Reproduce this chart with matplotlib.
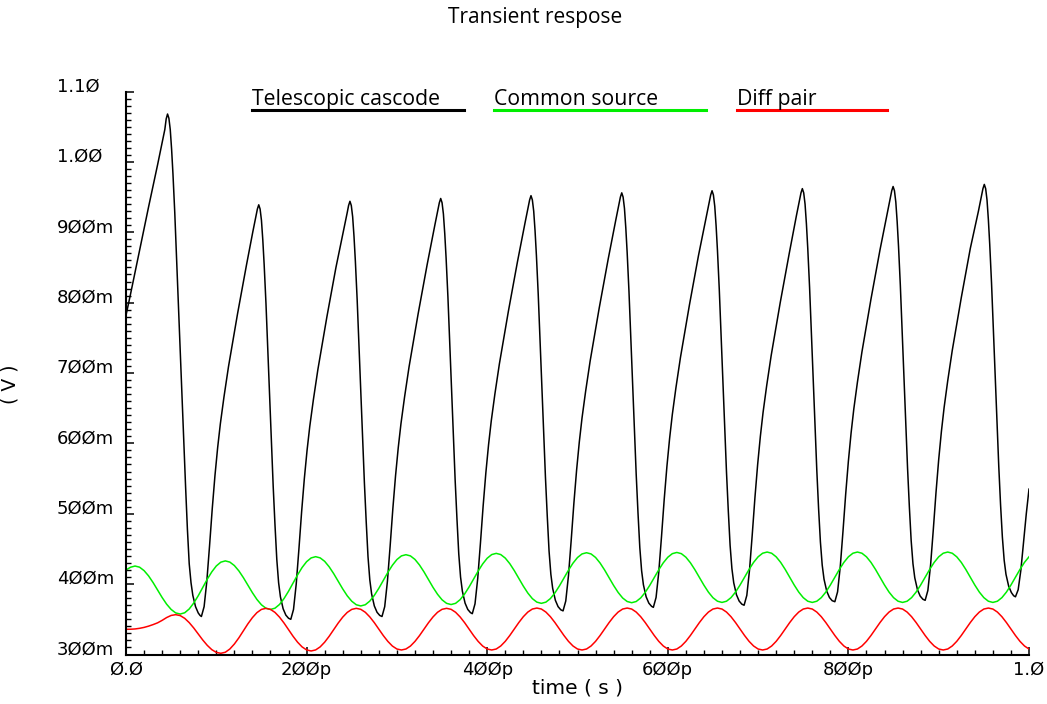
import numpy as np
import matplotlib
matplotlib.use("Agg")
import matplotlib.pyplot as plt
from matplotlib.lines import Line2D
from matplotlib.ticker import MultipleLocator

# ---- waveform samples: time in ps, voltage in mV ----
# Telescopic cascode output (one rise + one fall per cycle)
black_t = [
    0, 5, 10, 15, 20, 25, 30, 35, 40, 43, 44.5, 46,
    47.5, 49, 50.5, 52, 54, 56, 58, 60, 62, 64, 66, 68, 70, 72, 74, 77, 80, 82, 83.5,
    86.5, 89.5, 92.5, 95.5, 98.5, 101.5, 104.5, 108.5, 113.5, 123.5, 133.5, 140.5, 144, 145.5, 147,
    148.5, 150, 151.5, 153, 155, 157, 159, 161, 163, 165, 167, 169, 171, 174, 177, 180, 182.5,
    185.5, 188.5, 191.5, 194.5, 197.5, 200.5, 203.5, 207.5, 212.5, 222.5, 232.5, 241.5, 245, 246.5, 248,
    249.5, 251, 252.5, 254, 256, 258, 260, 262, 264, 266, 268, 270, 272, 275, 278, 281, 283.5,
    286.5, 289.5, 292.5, 295.5, 298.5, 301.5, 304.5, 308.5, 313.5, 323.5, 333.5, 342, 345.5, 347, 348.5,
    350, 351.5, 353, 354.5, 356.5, 358.5, 360.5, 362.5, 364.5, 366.5, 368.5, 370.5, 372.5, 375.5, 378.5, 381.5, 383.5,
    386.5, 389.5, 392.5, 395.5, 398.5, 401.5, 404.5, 408.5, 413.5, 423.5, 433.5, 442, 445.5, 447, 448.5,
    450, 451.5, 453, 454.5, 456.5, 458.5, 460.5, 462.5, 464.5, 466.5, 468.5, 470.5, 472.5, 475.5, 478.5, 481.5, 484,
    487, 490, 493, 496, 499, 502, 505, 509, 514, 524, 534, 542.5, 546, 547.5, 549,
    550.5, 552, 553.5, 555, 557, 559, 561, 563, 565, 567, 569, 571, 573, 576, 579, 582, 584,
    587, 590, 593, 596, 599, 602, 605, 609, 614, 624, 634, 642.5, 646, 647.5, 649,
    650.5, 652, 653.5, 655, 657, 659, 661, 663, 665, 667, 669, 671, 673, 676, 679, 682, 684.5,
    687.5, 690.5, 693.5, 696.5, 699.5, 702.5, 705.5, 709.5, 714.5, 724.5, 734.5, 742.5, 746, 747.5, 749,
    750.5, 752, 753.5, 755, 757, 759, 761, 763, 765, 767, 769, 771, 773, 776, 779, 782, 785,
    788, 791, 794, 797, 800, 803, 806, 810, 815, 825, 835, 843, 846.5, 848, 849.5,
    851, 852.5, 854, 855.5, 857.5, 859.5, 861.5, 863.5, 865.5, 867.5, 869.5, 871.5, 873.5, 876.5, 879.5, 882.5, 885,
    888, 891, 894, 897, 900, 903, 906, 910, 915, 925, 935, 944, 947.5, 949, 950.5,
    952, 953.5, 955, 956.5, 958.5, 960.5, 962.5, 964.5, 966.5, 968.5, 970.5, 972.5, 974.5, 977.5, 980.5, 983, 985,
    988, 991, 994, 997, 1000,
]
black_v = [
    782, 812, 843, 874, 905, 936, 966, 996, 1027, 1046, 1061, 1068,
    1062, 1046, 1018, 983, 928, 863, 798, 733, 668, 603, 538, 478, 429, 402, 384, 368, 359, 355.5, 354,
    368, 404, 454, 507, 554, 594, 628, 666, 709, 784, 854, 901, 923, 933, 939,
    933, 917, 889, 854, 799, 734, 669, 604, 539, 484, 435, 402, 382, 365, 356, 351.5, 350,
    364, 400, 450, 503, 550, 590, 624, 662, 705, 780, 850, 906, 928, 938, 944,
    938, 922, 894, 859, 804, 739, 674, 609, 544, 489, 439, 406, 386, 369, 360, 355.5, 354,
    368, 404, 454, 507, 554, 594, 628, 666, 709, 784, 854, 910, 932, 942, 948,
    942, 926, 898, 863, 808, 743, 678, 613, 548, 493, 443, 410, 390, 373, 364, 359.5, 358,
    372, 408, 458, 511, 558, 598, 632, 670, 713, 788, 858, 914, 936, 946, 952,
    946, 930, 902, 867, 812, 747, 682, 617, 552, 497, 447, 414, 394, 377, 368, 363.5, 362,
    376, 412, 462, 515, 562, 602, 636, 674, 717, 792, 862, 918, 940, 950, 956,
    950, 934, 906, 871, 816, 751, 686, 621, 556, 501, 452, 419, 399, 382, 373, 368.5, 367,
    381, 417, 467, 520, 567, 607, 641, 679, 722, 797, 867, 921, 943, 953, 959,
    953, 937, 909, 874, 819, 754, 689, 624, 559, 504, 455, 422, 402, 385, 376, 371.5, 370,
    384, 420, 470, 523, 570, 610, 644, 682, 725, 800, 870, 924, 946, 956, 962,
    956, 940, 912, 877, 822, 757, 692, 627, 562, 507, 460, 427, 407, 390, 381, 376.5, 375,
    389, 425, 475, 528, 575, 615, 649, 687, 730, 805, 875, 927, 949, 959, 965,
    959, 943, 915, 880, 825, 760, 695, 630, 565, 510, 462, 429, 409, 392, 383, 378.5, 377,
    391, 427, 477, 530, 577, 617, 651, 689, 732, 807, 877, 930, 952, 962, 968,
    962, 946, 918, 883, 828, 763, 698, 633, 568, 513, 467, 434, 414, 397, 388, 383.5, 382,
    392, 420, 460, 500, 535,
]

# Common source and diff pair outputs, sampled every 5 ps
wave_t = np.arange(0, 1001, 5)
green_v = [
    420, 424, 425.7,
    424.1, 419.2, 411.7, 402.2, 391.6, 381.0, 371.5, 364.0, 359.1, 357.5,
    359.3, 364.7, 373.1, 383.5, 395.3, 407.0, 417.4, 425.8, 431.2, 433.0,
    431.3, 426.4, 418.8, 409.2, 398.5, 387.8, 378.2, 370.6, 365.7, 364.0,
    365.8, 371.1, 379.5, 389.9, 401.5, 413.1, 423.6, 431.9, 437.2, 439.0,
    437.3, 432.4, 424.6, 414.9, 404.0, 393.2, 383.4, 375.7, 370.7, 369.0,
    370.7, 375.9, 384.0, 394.1, 405.4, 416.7, 426.8, 434.9, 440.1, 441.8,
    440.1, 435.1, 427.2, 417.4, 406.4, 395.4, 385.6, 377.7, 372.7, 371.0,
    372.7, 377.9, 386.0, 396.1, 407.4, 418.6, 428.7, 436.8, 442.0, 443.7,
    442.0, 437.0, 429.1, 419.2, 408.2, 397.2, 387.3, 379.4, 374.4, 372.7,
    374.4, 379.5, 387.5, 397.5, 408.7, 419.8, 429.8, 437.8, 442.9, 444.6,
    442.9, 437.9, 430.0, 420.1, 409.1, 398.1, 388.2, 380.3, 375.3, 373.6,
    375.3, 380.4, 388.3, 398.2, 409.3, 420.4, 430.3, 438.2, 443.3, 445.0,
    443.3, 438.3, 430.4, 420.5, 409.5, 398.5, 388.6, 380.7, 375.7, 374.0,
    375.7, 380.8, 388.7, 398.7, 409.8, 420.9, 430.9, 438.8, 443.9, 445.6,
    443.9, 438.8, 430.9, 420.9, 409.8, 398.7, 388.7, 380.8, 375.7, 374.0,
    375.7, 380.8, 388.7, 398.7, 409.8, 420.9, 430.9, 438.8, 443.9, 445.6,
    443.9, 438.8, 430.9, 420.9, 409.8, 398.7, 388.7, 380.8, 375.7, 374.0,
    375.7, 380.8, 388.7, 398.7, 409.8, 420.9, 430.9, 438.8, 443.9, 445.6,
    443.9, 438.8, 430.9, 420.9, 409.8, 398.7, 388.7, 380.8, 375.7, 374.0,
    375.7, 380.8, 388.7, 398.7, 409.8, 420.9, 430.9, 438.8,
]
red_v = [
    335.8, 335.9, 336.3, 337.2, 338.5, 340.3, 342.5, 345.0, 348.5, 352.5, 355.5, 356.6,
    355.3, 351.4, 345.3, 337.7, 329.2, 320.6, 313.0, 306.9, 303.0, 301.7,
    303.2, 307.8, 314.9, 323.7, 333.7, 343.6, 352.4, 359.5, 364.1, 365.6,
    364.1, 359.8, 353.1, 344.7, 335.3, 325.9, 317.5, 310.8, 306.5, 305.0,
    306.5, 310.8, 317.5, 325.9, 335.3, 344.7, 353.1, 359.8, 364.1, 365.6,
    364.2, 360.0, 353.4, 345.2, 336.0, 326.8, 318.6, 312.0, 307.8, 306.4,
    307.8, 312.0, 318.6, 326.8, 336.0, 345.2, 353.4, 360.0, 364.2, 365.6,
    364.2, 360.0, 353.4, 345.2, 336.0, 326.8, 318.6, 312.0, 307.8, 306.4,
    307.8, 312.1, 318.7, 327.0, 336.2, 345.4, 353.7, 360.3, 364.6, 366.0,
    364.6, 360.3, 353.7, 345.4, 336.2, 327.0, 318.7, 312.1, 307.8, 306.4,
    307.8, 312.1, 318.7, 327.0, 336.2, 345.4, 353.7, 360.3, 364.6, 366.0,
    364.6, 360.3, 353.7, 345.4, 336.2, 327.0, 318.7, 312.1, 307.8, 306.4,
    307.8, 312.1, 318.7, 327.0, 336.2, 345.4, 353.7, 360.3, 364.6, 366.0,
    364.6, 360.3, 353.7, 345.4, 336.2, 327.0, 318.7, 312.1, 307.8, 306.4,
    307.8, 312.1, 318.7, 327.0, 336.2, 345.4, 353.7, 360.3, 364.6, 366.0,
    364.6, 360.3, 353.7, 345.4, 336.2, 327.0, 318.7, 312.1, 307.8, 306.4,
    307.8, 312.1, 318.7, 327.0, 336.2, 345.4, 353.7, 360.3, 364.6, 366.0,
    364.6, 360.3, 353.7, 345.4, 336.2, 327.0, 318.7, 312.1, 307.8, 306.4,
    307.8, 312.1, 318.7, 327.0, 336.2, 345.4, 353.7, 360.3, 364.6, 366.0,
    364.6, 360.3, 353.7, 345.4, 336.2, 327.0, 318.7, 312.1, 307.8,
]

series_names = ["Telescopic cascode", "Common source", "Diff pair"]
series_colors = ["#000000", "#00ee00", "#ff0000"]

x_ticks = [0, 200, 400, 600, 800, 1000]
x_tick_labels = ["0.0", "200p", "400p", "600p", "800p", "1.0"]
y_ticks = [300, 400, 500, 600, 700, 800, 900, 1000, 1100]
y_tick_labels = ["300m", "400m", "500m", "600m", "700m", "800m", "900m", "1.00", "1.10"]


def slashed(s):
    """Waveform-viewer style zeros."""
    return s.replace("0", "\u00d8")


W, H = 1047, 704
fig = plt.figure(figsize=(W / 100, H / 100), dpi=100)
ax = fig.add_axes([126 / W, 1 - 654.5 / H, 903 / W, 563 / H])

ax.plot(black_t, black_v, color=series_colors[0], lw=1.1, solid_joinstyle="round")
ax.plot(wave_t, green_v, color=series_colors[1], lw=1.1)
ax.plot(wave_t, red_v, color=series_colors[2], lw=1.1)

ax.set_xlim(0, 1000)
ax.set_ylim(300, 1100)

for side in ("top", "right"):
    ax.spines[side].set_visible(False)
for side in ("left", "bottom"):
    ax.spines[side].set_linewidth(1.5)

tick_font = dict(family="DejaVu Sans", size=13)
ax.xaxis.set_minor_locator(MultipleLocator(20))
ax.yaxis.set_minor_locator(MultipleLocator(10))
ax.set_xticks(x_ticks)
ax.set_xticklabels([slashed(s) for s in x_tick_labels], fontdict=tick_font)
ax.set_yticks(y_ticks)
ax.set_yticklabels([slashed(s) for s in y_tick_labels], fontdict=tick_font,
                   ha="left", va="baseline")
ax.tick_params(which="major", direction="in", length=6, width=1.1)
ax.tick_params(which="minor", direction="in", length=3.5, width=1.0)
ax.tick_params(axis="x", which="major", pad=4.5)
ax.tick_params(axis="y", which="major", pad=49.7)

ax.set_xlabel("time ( s )", family="DejaVu Sans", size=14.5, labelpad=0)
ax.set_ylabel("( V )", family="DejaVu Sans", size=13.5)
ax.yaxis.set_label_coords((20 - 126) / 903, (654.5 - 384) / 563)

fig.text(535 / W, 1 - 18 / H, "Transient respose", ha="center", va="center",
         family="Open Sans", size=15)

# legend: name with a coloured underline
legend_x = [252, 494, 737]
legend_len = [212, 212, 150]
for name, col, x0, ln in zip(series_names, series_colors, legend_x, legend_len):
    fig.text(x0 / W, 1 - 105 / H, name, ha="left", va="baseline",
             family="Open Sans", size=15.3)
    fig.add_artist(Line2D([x0 / W, (x0 + ln) / W], [1 - 110 / H, 1 - 110 / H],
                          transform=fig.transFigure, color=col, lw=2.2))

fig.savefig("out.png", dpi=100)
